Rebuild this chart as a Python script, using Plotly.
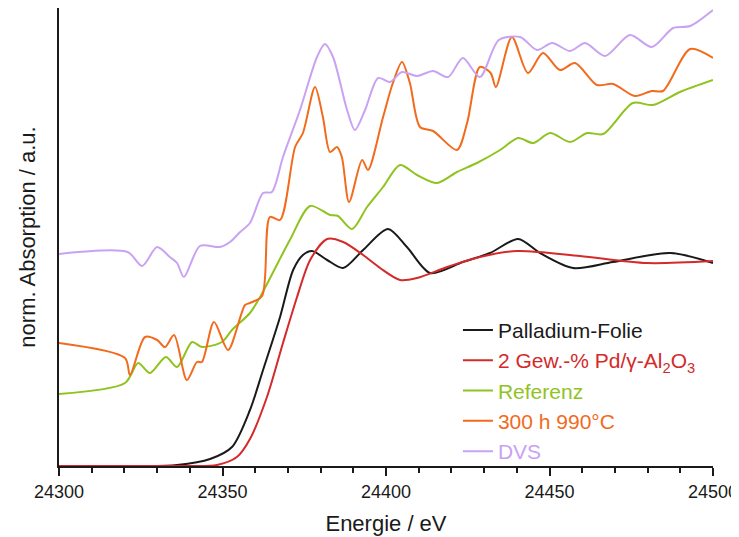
import plotly.graph_objects as go

# Energy (eV) and normalized absorption (a.u., curves offset as in the original)
pd_foil_e = [24327, 24336.1, 24346.2, 24352.9, 24358.4, 24362.4, 24367.6, 24371.6, 24374.6,
             24377.4, 24382.0, 24386.9, 24393.0, 24400.6, 24406.4, 24413.5, 24423.5, 24431.8,
             24440.4, 24447.1, 24457.2, 24469.4, 24486.9, 24500]
pd_foil_a = [0.0, 0.01, 0.07, 0.19, 0.56, 0.96, 1.49, 1.96, 2.11,
             2.15, 2.06, 1.98, 2.16, 2.37, 2.19, 1.93, 2.04, 2.13,
             2.27, 2.13, 1.98, 2.04, 2.13, 2.03]

pd_al_e = [24300, 24321, 24340, 24348.3, 24354.4, 24358.4, 24363.6, 24368.5, 24372.8, 24376.8,
           24382.0, 24386.9, 24393.0, 24398.2, 24404.3, 24409.5, 24418.7, 24428.7, 24440.1,
           24459.3, 24479.8, 24500]
pd_al_a = [0.0, 0.0, 0.0, 0.01, 0.09, 0.27, 0.69, 1.23, 1.69, 2.06,
           2.27, 2.24, 2.11, 1.98, 1.86, 1.88, 1.99, 2.09, 2.15,
           2.10, 2.03, 2.05]

ref_e = [24300, 24320.2, 24324.2, 24327.8, 24332.7, 24336.1, 24340.7, 24343.7, 24349.8, 24352.9,
         24358.4, 24361.5, 24370.6, 24376.8, 24382.9, 24385.3, 24389.6, 24394.2, 24399.1, 24404.3,
         24409.5, 24415.6, 24421.7, 24427.8, 24434.9, 24440.4, 24445.0, 24450.2, 24456.3, 24461.5,
         24466.4, 24475.5, 24481.7, 24489.9, 24500]
ref_a = [0.72, 0.83, 1.03, 0.93, 1.09, 0.99, 1.24, 1.19, 1.24, 1.36,
         1.53, 1.69, 2.26, 2.60, 2.51, 2.50, 2.37, 2.59, 2.79, 3.01,
         2.91, 2.83, 2.94, 3.03, 3.16, 3.28, 3.23, 3.33, 3.24, 3.33,
         3.32, 3.63, 3.61, 3.74, 3.86]

aged_e = [24300, 24320.2, 24321.7, 24326.3, 24330.0, 24332.4, 24335.2, 24339.1, 24342.2, 24343.7,
          24347.4, 24351.7, 24356.9, 24358.4, 24362.1, 24364.5, 24367.6, 24372.2, 24374.6, 24378.3,
          24380.7, 24382.9, 24385.0, 24386.5, 24388.7, 24392.7, 24394.5, 24399.1, 24402.1, 24404.9,
          24407.3, 24410.4, 24414.4, 24421.7, 24424.8, 24428.7, 24432.0, 24433.6, 24438.5, 24443.4,
          24448.0, 24453.2, 24457.8, 24464.5, 24469.4, 24476.1, 24481.3, 24484.7, 24493.0, 24500]
aged_a = [1.23, 1.08, 0.91, 1.29, 1.26, 1.19, 1.31, 0.86, 1.04, 1.04,
          1.44, 1.16, 1.61, 1.63, 1.70, 2.49, 2.46, 3.19, 3.33, 3.79,
          3.49, 3.14, 3.19, 3.09, 2.64, 3.06, 2.96, 3.49, 3.83, 4.04,
          3.83, 3.39, 3.35, 3.16, 3.43, 3.99, 3.93, 3.79, 4.29, 3.93,
          4.13, 3.96, 4.03, 3.81, 3.82, 3.70, 3.75, 3.75, 4.17, 4.08]

dvs_e = [24300, 24321, 24325.4, 24330.0, 24333.9, 24336.1, 24338.2, 24343.1, 24349.2, 24352.3,
         24355.4, 24358.4, 24362.4, 24365.1, 24368.5, 24373.7, 24378.9, 24381.3, 24383.8, 24388.1,
         24390.5, 24393.6, 24397.6, 24401.2, 24404.9, 24409.5, 24414.4, 24419.0, 24423.5, 24428.7,
         24434.5, 24441.0, 24446.2, 24450.8, 24456.3, 24460.9, 24467.0, 24474.6, 24481.3, 24487.8,
         24493.0, 24500]
dvs_a = [2.12, 2.14, 2.00, 2.19, 2.09, 2.03, 1.89, 2.20, 2.19, 2.24,
         2.34, 2.43, 2.73, 2.74, 3.09, 3.56, 4.09, 4.22, 4.09, 3.56,
         3.36, 3.56, 3.88, 3.84, 3.94, 3.90, 3.95, 3.89, 4.08, 3.89,
         4.26, 4.29, 4.16, 4.23, 4.15, 4.23, 4.10, 4.31, 4.19, 4.38,
         4.40, 4.56]

x_ticks = [24300, 24350, 24400, 24450, 24500]

series = [
    ("Palladium-Folie", pd_foil_e, pd_foil_a, "#1a1a1a"),
    ("2 Gew.-% Pd/γ-Al<sub>2</sub>O<sub>3</sub>", pd_al_e, pd_al_a, "#d42a2a"),
    ("Referenz", ref_e, ref_a, "#8fc31f"),
    ("300 h 990°C", aged_e, aged_a, "#f26b1d"),
    ("DVS", dvs_e, dvs_a, "#c9a2f2"),
]

fig = go.Figure()
for name, xs, ys, col in series:
    fig.add_trace(go.Scatter(
        x=xs, y=ys, mode="lines",
        name=f"<span style='color:{col}'>{name}</span>",
        line=dict(color=col, width=2, shape="spline", smoothing=0.8),
        cliponaxis=False,
    ))

FONT = "Liberation Sans, Arial, sans-serif"

# page body has an 8px margin, so the figure is sized/offset to compensate
fig.update_layout(
    width=731, height=529,
    margin=dict(l=51, r=26, t=0, b=71, autoexpand=False),
    paper_bgcolor="white", plot_bgcolor="white",
    font=dict(family=FONT, color="#1a1a1a"),
    showlegend=True,
    legend=dict(
        x=0.61, y=0.341, xanchor="left", yanchor="top",
        bgcolor="rgba(0,0,0,0)", font=dict(size=21, family=FONT),
        tracegroupgap=0, itemwidth=30,
    ),
    xaxis=dict(
        range=[24300, 24500], showgrid=False, zeroline=False, automargin=False,
        showline=True, linecolor="#1a1a1a", linewidth=2, layer="below traces",
        ticks="outside", ticklen=8, tickwidth=1.5, tickcolor="#1a1a1a",
        tickvals=x_ticks, ticktext=[str(v) for v in x_ticks],
        tickfont=dict(size=18, family=FONT, color="#1a1a1a"),
        minor=dict(dtick=10, ticks="outside", ticklen=5, tickwidth=1.5, tickcolor="#1a1a1a"),
        title=dict(text="Energie / eV", font=dict(size=22, family=FONT)),
    ),
    yaxis=dict(
        range=[0, 4.58], showgrid=False, zeroline=False, automargin=False,
        showline=True, linecolor="#1a1a1a", linewidth=2, layer="below traces",
        showticklabels=False, ticks="",
        title=dict(text="norm. Absorption / a.u.", font=dict(size=22, family=FONT)),
    ),
)

fig.write_html("out.html")
